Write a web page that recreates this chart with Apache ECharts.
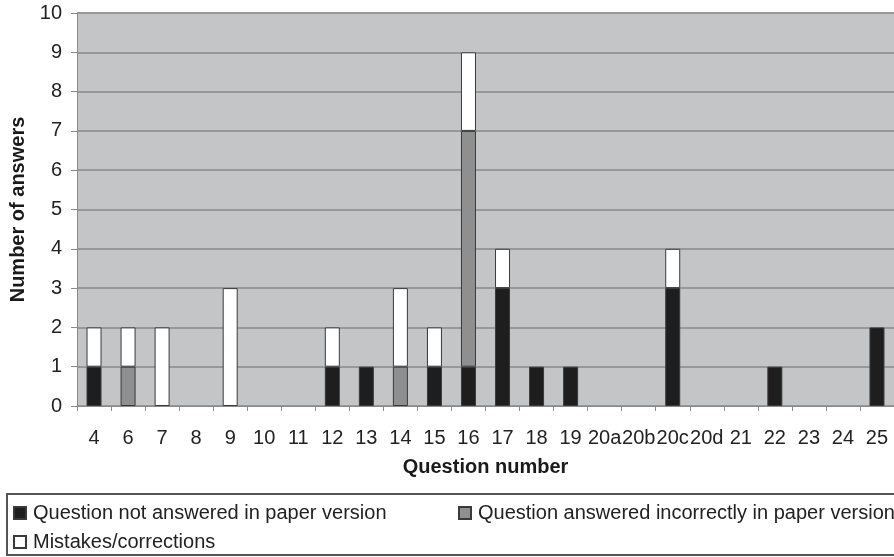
<!DOCTYPE html>
<html>
<head>
<meta charset="utf-8">
<script src="https://cdn.jsdelivr.net/npm/echarts@6/dist/echarts.min.js"></script>
<style>
  html, body { margin: 0; padding: 0; background: #fff; }
  #chart { width: 894px; height: 557px; }
</style>
</head>
<body>
<div id="chart"></div>
<script>
var questions = ['4', '6', '7', '8', '9', '10', '11', '12', '13', '14', '15', '16', '17', '18', '19', '20a', '20b', '20c', '20d', '21', '22', '23', '24', '25'];
var notAnswered = [1, 0, 0, 0, 0, 0, 0, 1, 1, 0, 1, 1, 3, 1, 1, 0, 0, 3, 0, 0, 1, 0, 0, 2];
var answeredWrong = [0, 1, 0, 0, 0, 0, 0, 0, 0, 1, 0, 6, 0, 0, 0, 0, 0, 0, 0, 0, 0, 0, 0, 0];
var mistakes = [1, 1, 2, 0, 3, 0, 0, 1, 0, 2, 1, 2, 1, 0, 0, 0, 0, 1, 0, 0, 0, 0, 0, 0];
var yTicks = [0, 1, 2, 3, 4, 5, 6, 7, 8, 9, 10];

var font = 'Liberation Sans, Arial, sans-serif';
var chart = echarts.init(document.getElementById('chart'));

function zeroToDash(arr) {
    return arr.map(function (v) { return v === 0 ? '-' : v; });
}

function barSeries(name, data, color) {
    return {
        name: name,
        type: 'bar',
        stack: 'all',
        barWidth: 15,
        data: zeroToDash(data),
        itemStyle: { color: color, borderColor: '#3a3a3a', borderWidth: 1 },
        emphasis: { disabled: true }
    };
}

var legendBase = {
    orient: 'horizontal',
    icon: 'rect',
    itemWidth: 12,
    itemHeight: 12,
    itemGap: 4,
    textStyle: { fontFamily: font, fontSize: 20, color: '#222', padding: [0, 0, 0, 2] },
    selectedMode: false
};

var option = {
    animation: false,
    backgroundColor: '#ffffff',
    grid: { left: 77, top: 13, right: -8, height: 393, backgroundColor: '#c4c5c7', show: true, borderWidth: 0 },
    xAxis: {
        type: 'category',
        data: questions,
        name: 'Question number',
        nameLocation: 'middle',
        nameGap: 51,
        nameTextStyle: { fontFamily: font, fontSize: 20, fontWeight: 'bold', color: '#1a1a1a' },
        axisLine: { lineStyle: { color: '#8a8a8a', width: 1 } },
        axisTick: { show: true, alignWithLabel: false, length: 5, lineStyle: { color: '#8a8a8a' } },
        axisLabel: { fontFamily: font, fontSize: 20, color: '#222', margin: 22, interval: 0 }
    },
    yAxis: {
        type: 'value',
        min: yTicks[0],
        max: yTicks[yTicks.length - 1],
        interval: 1,
        name: 'Number of answers',
        nameLocation: 'middle',
        nameGap: 49,
        nameTextStyle: { fontFamily: font, fontSize: 20, fontWeight: 'bold', color: '#1a1a1a' },
        axisLine: { show: true, lineStyle: { color: '#8a8a8a', width: 1 } },
        axisTick: { show: true, length: 6, lineStyle: { color: '#8a8a8a' } },
        axisLabel: { fontFamily: font, fontSize: 20, color: '#222', margin: 15 },
        splitLine: { show: true, lineStyle: { color: '#989898', width: 2 } }
    },
    legend: [
        Object.assign({ left: 8, top: 498, data: ['Question not answered in paper version'] }, legendBase),
        Object.assign({ left: 453, top: 498, data: ['Question answered incorrectly in paper version'] }, legendBase),
        Object.assign({ left: 8, top: 527, data: ['Mistakes/corrections'] }, legendBase)
    ],
    graphic: [{
        type: 'rect',
        shape: { x: 7, y: 494, width: 900, height: 61 },
        style: { fill: 'none', stroke: '#555', lineWidth: 2 },
        silent: true
    }],
    series: [
        barSeries('Question not answered in paper version', notAnswered, '#1e1e1e'),
        barSeries('Question answered incorrectly in paper version', answeredWrong, '#8f8f8f'),
        barSeries('Mistakes/corrections', mistakes, '#ffffff')
    ]
};
chart.setOption(option);
</script>
</body>
</html>
